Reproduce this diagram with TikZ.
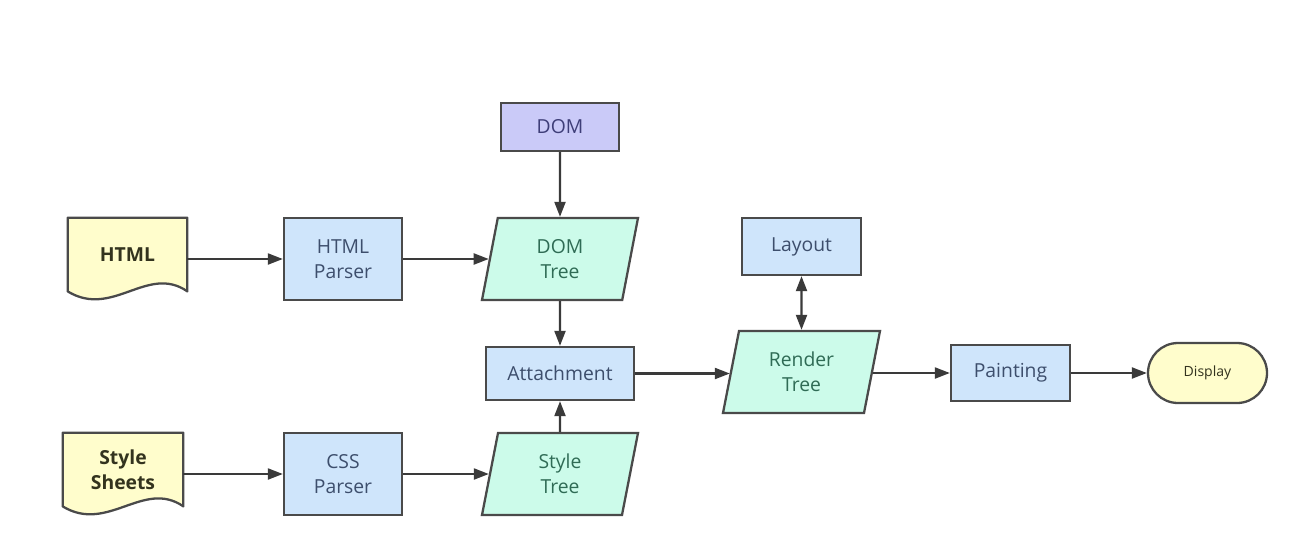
\documentclass[tikz,border=0pt]{standalone}
\usepackage{fontspec}
\setmainfont{Open Sans}
\usetikzlibrary{arrows.meta,shapes.geometric,calc}
\definecolor{edge}{HTML}{3A3A3A}
\definecolor{rim}{HTML}{4A4A4A}
\definecolor{paper}{HTML}{FFFDCC}
\definecolor{sky}{HTML}{CFE5FB}
\definecolor{mint}{HTML}{CCFBEA}
\definecolor{lilac}{HTML}{CACAF8}
\definecolor{skytext}{HTML}{3D4E6C}
\definecolor{minttext}{HTML}{2F6B55}
\definecolor{lilactext}{HTML}{3E3E78}
\definecolor{papertext}{HTML}{33331E}
\tikzset{>={Triangle[length=3mm,width=2.2mm]},
  base/.style={draw=rim,line width=1.3pt,align=center,inner sep=2pt,font=\fontsize{11}{14}\selectfont},
  pbox/.style={base,rectangle,fill=sky,text=skytext,minimum width=2.36cm},
  treebox/.style={base,trapezium,trapezium left angle=71,trapezium right angle=109,trapezium stretches body,fill=mint,text=minttext,minimum width=3.12cm,minimum height=1.64cm},
  srcbox/.style={align=center,inner sep=0pt,minimum width=2.38cm,minimum height=1.46cm,text=papertext,font=\fontsize{11}{14}\selectfont\bfseries},
  arr/.style={->,edge,line width=1.2pt}}

\begin{document}
\begin{tikzpicture}
\useasboundingbox (0,0) rectangle (25.98,-10.82);
% sources
\node[srcbox] (html) at (2.55,-5.09) {HTML};
\node[srcbox,minimum width=2.40cm] (sheets) at (2.46,-9.39) {Style\\Sheets};
\foreach \n in {html,sheets}
  \filldraw[draw=rim,fill=paper,line width=1.3pt,line join=round] (\n.south west) -- (\n.north west) -- (\n.north east) -- (\n.south east)
    .. controls ($(\n.south east)+(-0.8,0.55)$) and ($(\n.south west)+(0.9,-0.55)$) .. (\n.south west) -- cycle;
\node[srcbox] at (html) {HTML};
\node[srcbox,minimum width=2.40cm] at (sheets) {Style\\Sheets};
% parsers and trees
\node[pbox,minimum height=1.64cm] (hparser) at (6.86,-5.18) {HTML\\Parser};
\node[pbox,minimum height=1.64cm] (cparser) at (6.86,-9.48) {CSS\\Parser};
\node[treebox] (domtree) at (11.20,-5.18) {DOM\\Tree};
\node[treebox] (styletree) at (11.20,-9.48) {Style\\Tree};
\node[base,fill=lilac,text=lilactext,minimum width=2.36cm,minimum height=0.96cm] (dom) at (11.20,-2.54) {DOM};
\node[pbox,minimum width=2.96cm,minimum height=1.06cm] (attach) at (11.20,-7.47) {Attachment};
% render side
\node[treebox,minimum width=3.14cm] (render) at (16.03,-7.44) {Render\\Tree};
\node[pbox,minimum width=2.38cm,minimum height=1.14cm] (layout) at (16.03,-4.93) {Layout};
\node[pbox,minimum width=2.38cm,minimum height=1.12cm] (paint) at (20.21,-7.46) {Painting};
\node[base,rounded corners=0.6cm,fill=paper,text=papertext,minimum width=2.38cm,minimum height=1.20cm,font=\fontsize{8}{10}\selectfont] (display) at (24.15,-7.46) {Display};
% connectors
\draw[arr] (html.east |- hparser.west) -- (hparser.west);
\draw[arr] (hparser.east) -- (hparser.east -| domtree.west);
\draw[arr] (dom) -- (domtree);
\draw[arr] (domtree) -- (attach);
\draw[arr] (sheets.east |- cparser.west) -- (cparser.west);
\draw[arr] (cparser.east) -- (cparser.east -| styletree.west);
\draw[arr] (styletree) -- (attach);
\draw[arr] (attach.east) -- (attach.east -| render.west);
\draw[arr,<->] (layout) -- (render);
\draw[arr] (render.east |- paint.west) -- (paint.west);
\draw[arr] (paint) -- (display);
\end{tikzpicture}
\end{document}
